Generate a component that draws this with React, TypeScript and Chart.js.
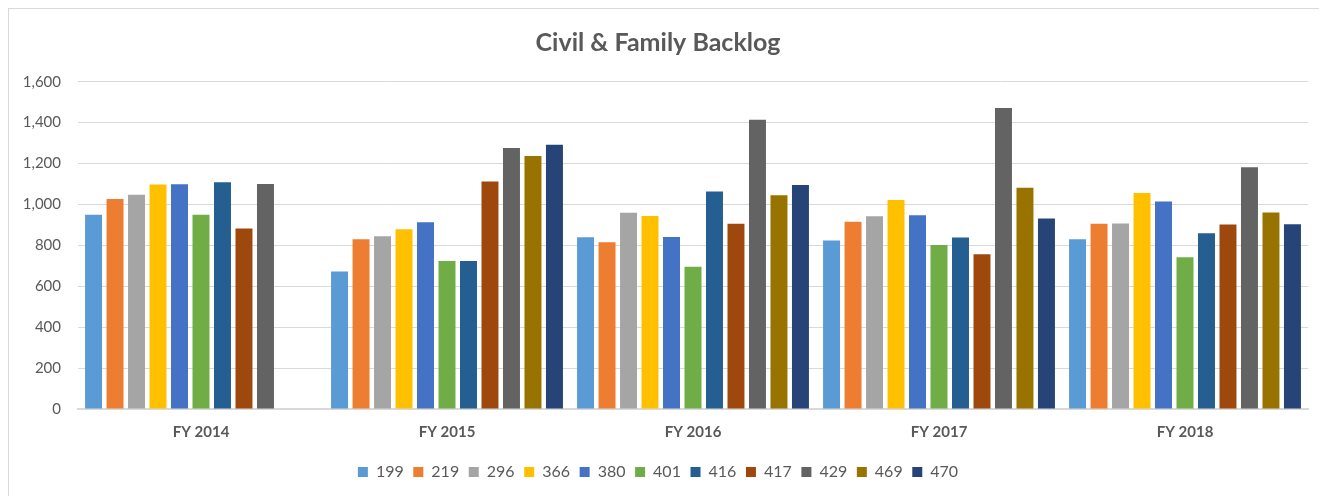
import React, { useEffect, useRef } from "react";
import { Chart, registerables } from "chart.js";

Chart.register(...registerables);

const categories = ["FY 2014", "FY 2015", "FY 2016", "FY 2017", "FY 2018"];
const seriesNames = ["199", "219", "296", "366", "380", "401", "416", "417", "429", "469", "470"];

const s199 = [950, 672, 840, 824, 830];
const s219 = [1027, 830, 815, 915, 905];
const s296 = [1047, 845, 959, 942, 907];
const s366 = [1097, 879, 944, 1022, 1056];
const s380 = [1099, 913, 841, 947, 1014];
const s401 = [949, 723, 695, 802, 742];
const s416 = [1108, 723, 1063, 838, 859];
const s417 = [882, 1112, 905, 757, 902];
const s429 = [1100, 1276, 1414, 1471, 1182];
const s469 = [null, 1237, 1045, 1081, 960];
const s470 = [null, 1292, 1095, 931, 903];

const seriesValues = [s199, s219, s296, s366, s380, s401, s416, s417, s429, s469, s470];
const seriesColors = [
  "#5B9BD5", "#ED7D31", "#A5A5A5", "#FFC000", "#4472C4", "#70AD47",
  "#255E91", "#9E480E", "#636363", "#997300", "#264478",
];

const yTicks = [0, 200, 400, 600, 800, 1000, 1200, 1400, 1600];

const TEXT = "#595959";
const GRID = "#D9D9D9";

export default function App() {
  const ref = useRef<HTMLCanvasElement | null>(null);

  useEffect(() => {
    document.documentElement.style.overflow = "hidden";
    document.body.style.overflow = "hidden";
    if (!ref.current) return;
    const chart = new Chart(ref.current, {
      type: "bar",
      data: {
        labels: categories,
        datasets: seriesNames.map((name, i) => ({
          label: name,
          data: seriesValues[i] as any,
          backgroundColor: seriesColors[i],
          borderWidth: 0,
          categoryPercentage: 0.961,
          barPercentage: 0.79,
        })),
      },
      options: {
        animation: false,
        responsive: false,
        maintainAspectRatio: false,
        layout: { padding: { left: 0, right: 20, top: 0, bottom: 6 } },
        plugins: {
          title: {
            display: true,
            text: "Civil & Family Backlog",
            color: TEXT,
            font: { family: "Lato", size: 25, weight: "bold" },
            padding: { top: 20, bottom: 23.7 },
          },
          legend: {
            position: "bottom",
            labels: {
              color: TEXT,
              font: { family: "Lato", size: 16 },
              boxWidth: 10,
              boxHeight: 10,
              padding: 9.6,
            },
          },
          tooltip: { enabled: false },
        },
        scales: {
          x: {
            grid: { display: false, drawTicks: false },
            border: { display: true, color: GRID, width: 2 },
            ticks: {
              color: TEXT,
              font: { family: "Lato", size: 15, weight: "bold" },
              padding: 14.5,
            },
            afterFit: (scale: any) => {
              scale.height = 45.4;
            },
          },
          y: {
            min: 0,
            max: 1600,
            afterBuildTicks: (scale: any) => {
              scale.ticks = yTicks.map((v) => ({ value: v }));
            },
            grid: { color: GRID, lineWidth: 1, drawTicks: false },
            border: { display: false },
            ticks: {
              color: TEXT,
              font: { family: "Lato", size: 15 },
              padding: 17,
              callback: (v: any) => Number(v).toLocaleString("en-US"),
            },
            afterFit: (scale: any) => {
              scale.width = 70;
            },
          },
        },
      },
    });
    return () => chart.destroy();
  }, []);

  return (
    <div style={{ position: "relative", width: 1322, height: 490, background: "#fff" }}>
      <canvas ref={ref} width={1320} height={488} style={{ display: "block", width: 1320, height: 488 }} />
      <div
        style={{
          position: "absolute",
          left: 0,
          top: 0,
          width: 1322,
          height: 490,
          boxSizing: "border-box",
          border: "1px solid #D9D9D9",
          pointerEvents: "none",
        }}
      />
    </div>
  );
}
